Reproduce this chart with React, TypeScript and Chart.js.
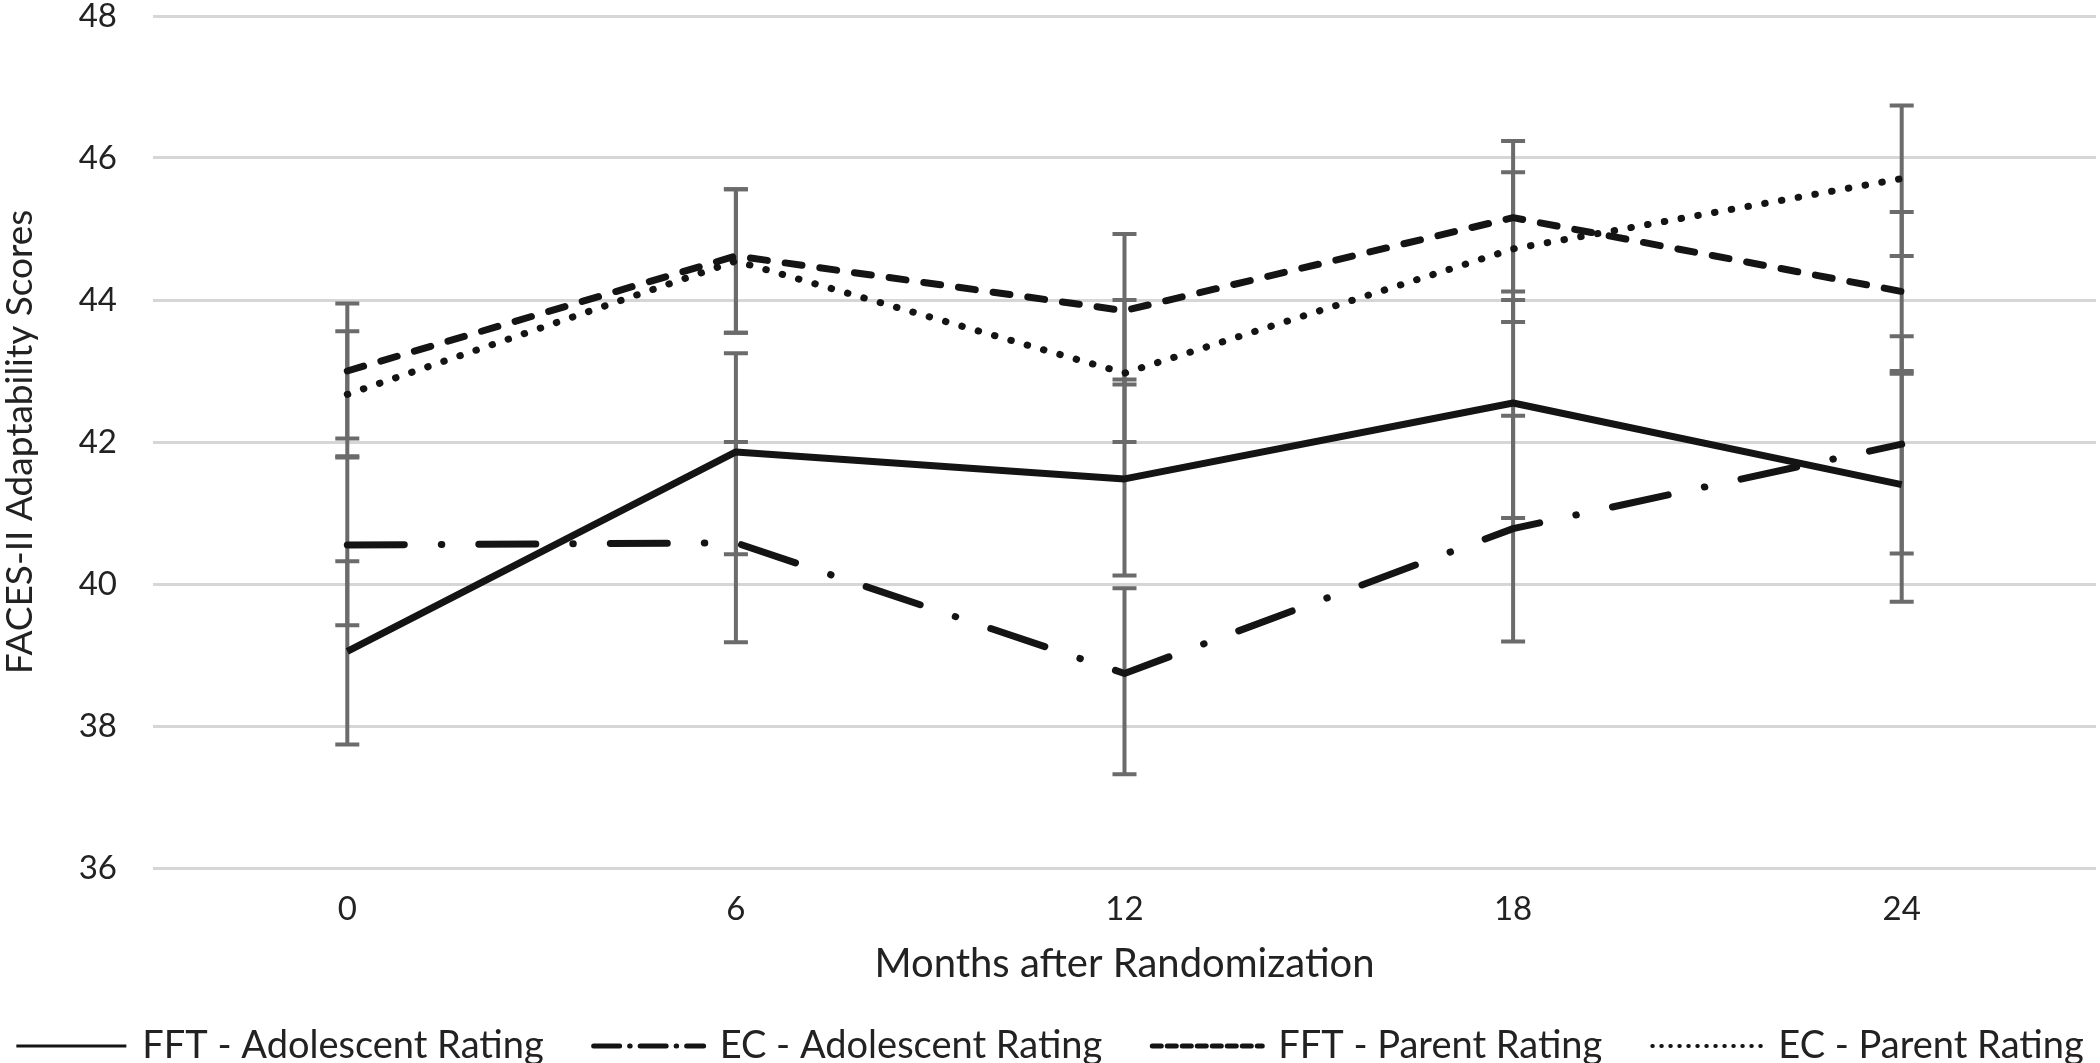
import React, { useEffect, useRef } from 'react';
import { Chart, registerables } from 'chart.js';

Chart.register(...registerables);

// ---------- data ----------
const months = ['0', '6', '12', '18', '24'];
const yMin = 36;
const yMax = 48;
const yStep = 2;

const seriesNames = [
  'FFT - Adolescent Rating',
  'EC - Adolescent Rating',
  'FFT - Parent Rating',
  'EC - Parent Rating',
];

const fftAdolescent = [39.05, 41.86, 41.48, 42.55, 41.4];
const fftAdolescentLow = [37.74, 40.42, 40.12, 40.93, 39.75];
const fftAdolescentHigh = [40.32, 43.25, 42.88, 44.0, 42.96];

const ecAdolescent = [40.55, 40.58, 38.74, 40.78, 41.97];
const ecAdolescentLow = [39.42, 39.18, 37.32, 39.19, 40.43];
const ecAdolescentHigh = [41.8, 42.0, 39.94, 42.37, 43.49];

const fftParent = [43.0, 44.62, 43.85, 45.16, 44.12];
const fftParentLow = [42.05, 43.54, 42.81, 44.12, 43.0];
const fftParentHigh = [43.95, 45.56, 44.93, 46.24, 45.24];

const ecParent = [42.67, 44.55, 42.97, 44.72, 45.71];
const ecParentLow = [41.78, 43.54, 42.0, 43.69, 44.62];
const ecParentHigh = [43.56, 45.56, 44.0, 45.8, 46.74];

// ---------- styles ----------
const LINE_COLOR = '#141414';
const ERR_COLOR = '#6b6b6b';
const TEXT_COLOR = '#222222';
const FONT = 'Lato, "Open Sans", sans-serif';

const lineDashes: number[][] = [[], [57, 37, 0.5, 37], [17, 18], [0.5, 16.5]];
const legendDashes: number[][] = [[], [26, 10, 0.5, 10], [9, 6], [0.5, 8.5]];
const legendWidths = [3, 5, 5, 4];

const errorBarPlugin = {
  id: 'errorBars',
  beforeDatasetsDraw(chart: any) {
    const { ctx } = chart;
    const x = chart.scales.x;
    const y = chart.scales.y;
    ctx.save();
    ctx.strokeStyle = ERR_COLOR;
    ctx.lineCap = 'butt';
    chart.data.datasets.forEach((ds: any) => {
      const lo: number[] = ds.errLow;
      const hi: number[] = ds.errHigh;
      if (!lo || !hi) return;
      lo.forEach((l, j) => {
        const px = x.getPixelForValue(j);
        const yl = y.getPixelForValue(l);
        const yh = y.getPixelForValue(hi[j]);
        ctx.lineWidth = 4;
        ctx.beginPath();
        ctx.moveTo(px, yl);
        ctx.lineTo(px, yh);
        ctx.stroke();
        ctx.beginPath();
        ctx.moveTo(px - 12, yl);
        ctx.lineTo(px + 12, yl);
        ctx.moveTo(px - 12, yh);
        ctx.lineTo(px + 12, yh);
        ctx.stroke();
      });
    });
    ctx.restore();
  },
};

const legendPlugin = {
  id: 'customLegend',
  afterDraw(chart: any, _args: any, opts: any) {
    const { ctx } = chart;
    ctx.save();
    ctx.font = `38px ${FONT}`;
    ctx.textBaseline = 'middle';
    ctx.textAlign = 'left';
    const sample = 110;
    const gapText = 16;
    const gapItem = 50;
    const items = chart.data.datasets.map((ds: any, i: number) => ({
      text: ds.label as string,
      w: ctx.measureText(ds.label).width,
      i,
    }));
    let total = 0;
    items.forEach((it: any) => (total += sample + gapText + it.w));
    total += gapItem * (items.length - 1);
    let xx = (chart.width - total) / 2;
    const yy = opts.y;
    items.forEach((it: any) => {
      ctx.save();
      ctx.strokeStyle = LINE_COLOR;
      ctx.lineWidth = legendWidths[it.i];
      ctx.lineCap = it.i === 0 ? 'butt' : 'round';
      ctx.setLineDash(legendDashes[it.i]);
      ctx.beginPath();
      ctx.moveTo(xx, yy);
      ctx.lineTo(xx + sample, yy);
      ctx.stroke();
      ctx.restore();
      ctx.fillStyle = TEXT_COLOR;
      ctx.fillText(it.text, xx + sample + gapText, yy);
      xx += sample + gapText + it.w + gapItem;
    });
    ctx.restore();
  },
};

export default function App() {
  const ref = useRef<HTMLCanvasElement | null>(null);

  useEffect(() => {
    if (!ref.current) return;
    const values = [fftAdolescent, ecAdolescent, fftParent, ecParent];
    const lows = [fftAdolescentLow, ecAdolescentLow, fftParentLow, ecParentLow];
    const highs = [fftAdolescentHigh, ecAdolescentHigh, fftParentHigh, ecParentHigh];

    const datasets = seriesNames.map((name, i) => ({
      label: name,
      data: values[i],
      errLow: lows[i],
      errHigh: highs[i],
      borderColor: LINE_COLOR,
      backgroundColor: LINE_COLOR,
      borderWidth: 7,
      borderDash: lineDashes[i],
      borderCapStyle: i === 0 ? 'butt' : 'round',
      borderJoinStyle: 'round',
      pointRadius: 0,
      pointHoverRadius: 0,
      tension: 0,
      fill: false,
    }));

    const chart = new Chart(ref.current, {
      type: 'line',
      data: { labels: months, datasets: datasets as any },
      options: {
        responsive: false,
        animation: false,
        devicePixelRatio: 1,
        layout: { padding: { left: 0, right: 4, top: 16, bottom: 65 } },
        plugins: {
          legend: { display: false },
          tooltip: { enabled: false },
          customLegend: { y: 1046 },
        } as any,
        scales: {
          x: {
            offset: true,
            grid: { display: false, drawTicks: false },
            border: { display: false },
            ticks: {
              color: TEXT_COLOR,
              font: { family: FONT, size: 33 },
              padding: 22,
              maxRotation: 0,
            },
            title: {
              display: true,
              text: 'Months after Randomization',
              color: TEXT_COLOR,
              font: { family: FONT, size: 40, lineHeight: 1.2 },
              padding: { top: 0, bottom: 10 },
            },
            afterFit: (s: any) => {
              s.height = 130;
              s.paddingLeft = 0;
              s.paddingRight = 0;
            },
          },
          y: {
            min: yMin,
            max: yMax,
            grid: { color: '#d6d6d6', lineWidth: 3, drawTicks: false },
            border: { display: false },
            ticks: {
              stepSize: yStep,
              color: TEXT_COLOR,
              font: { family: FONT, size: 33 },
              padding: 36,
            },
            title: {
              display: true,
              text: 'FACES-II Adaptability Scores',
              color: TEXT_COLOR,
              font: { family: FONT, size: 37, lineHeight: 1.0 },
              padding: { top: 2, bottom: 0 },
            },
            afterFit: (s: any) => {
              s.width = 153;
              s.paddingTop = 0;
              s.paddingBottom = 0;
            },
          },
        },
      },
      plugins: [errorBarPlugin, legendPlugin],
    });
    return () => chart.destroy();
  }, []);

  return (
    <div style={{ position: 'absolute', left: 0, top: 0, width: 2100, height: 1063, background: '#fff' }}>
      <canvas ref={ref} width={2100} height={1063} />
    </div>
  );
}
